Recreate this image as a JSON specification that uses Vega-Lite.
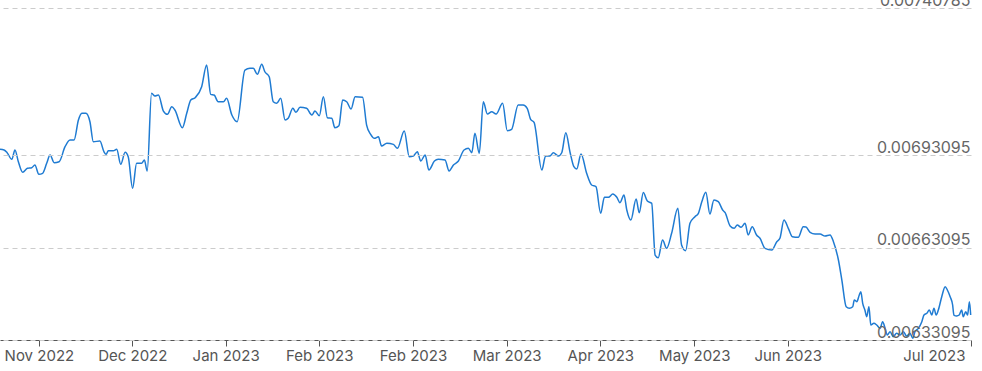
{
  "$schema": "https://vega.github.io/schema/vega-lite/v6.json",
  "width": 971,
  "height": 332,
  "autosize": {"type": "none"},
  "padding": {"left": 0, "top": 8, "right": 11, "bottom": 31},
  "background": "white",
  "config": {"view": {"stroke": null}},
  "data": {"values": [
    {"d":0.0,"v":0.0069494},{"d":1.3,"v":0.0069472},{"d":2.3,"v":0.0069384},{"d":3.8,"v":0.0069170},{"d":4.8,"v":0.0069472},
    {"d":5.9,"v":0.0069092},{"d":7.3,"v":0.0068748},{"d":8.8,"v":0.0068878},{"d":10.2,"v":0.0068898},{"d":11.2,"v":0.0068985},
    {"d":12.5,"v":0.0068684},{"d":13.7,"v":0.0068716},{"d":15.0,"v":0.0069040},{"d":16.1,"v":0.0069310},{"d":17.4,"v":0.0069060},
    {"d":19.0,"v":0.0069092},{"d":20.9,"v":0.0069579},{"d":22.5,"v":0.0069796},{"d":23.8,"v":0.0069796},{"d":25.2,"v":0.0070445},
    {"d":26.3,"v":0.0070662},{"d":27.6,"v":0.0070662},{"d":28.9,"v":0.0070390},{"d":30.0,"v":0.0069741},{"d":32.1,"v":0.0069764},
    {"d":33.4,"v":0.0069416},{"d":34.1,"v":0.0069332},{"d":34.8,"v":0.0069449},{"d":36.4,"v":0.0069449},{"d":37.5,"v":0.0069494},
    {"d":38.8,"v":0.0069008},{"d":40.2,"v":0.0069397},{"d":41.2,"v":0.0069254},{"d":42.6,"v":0.0068230},{"d":43.9,"v":0.0069040},
    {"d":45.5,"v":0.0069040},{"d":46.4,"v":0.0069147},{"d":47.3,"v":0.0068791},{"d":48.7,"v":0.0071310},{"d":49.8,"v":0.0071223},
    {"d":50.9,"v":0.0071255},{"d":52.5,"v":0.0070736},{"d":53.8,"v":0.0070629},{"d":55.2,"v":0.0070876},{"d":56.2,"v":0.0070769},
    {"d":58.6,"v":0.0070195},{"d":60.0,"v":0.0070662},{"d":61.3,"v":0.0071093},{"d":62.7,"v":0.0071168},{"d":64.8,"v":0.0071525},
    {"d":66.4,"v":0.0072228},{"d":67.7,"v":0.0071278},{"d":68.8,"v":0.0071255},{"d":70.1,"v":0.0071038},{"d":71.8,"v":0.0071038},
    {"d":72.8,"v":0.0071148},{"d":74.5,"v":0.0070607},{"d":76.2,"v":0.0070390},{"d":78.7,"v":0.0072066},{"d":80.3,"v":0.0072121},
    {"d":81.4,"v":0.0072121},{"d":82.7,"v":0.0071927},{"d":84.1,"v":0.0072251},{"d":85.1,"v":0.0072011},{"d":86.5,"v":0.0071849},
    {"d":87.8,"v":0.0071038},{"d":88.9,"v":0.0070986},{"d":90.2,"v":0.0071148},{"d":91.6,"v":0.0070445},{"d":92.6,"v":0.0070500},
    {"d":94.1,"v":0.0070824},{"d":95.1,"v":0.0070694},{"d":96.4,"v":0.0070856},{"d":98.5,"v":0.0070824},{"d":100.2,"v":0.0070607},
    {"d":101.2,"v":0.0070736},{"d":102.6,"v":0.0070584},{"d":103.9,"v":0.0071200},{"d":105.2,"v":0.0070519},{"d":106.6,"v":0.0070500},
    {"d":107.6,"v":0.0070195},{"d":108.9,"v":0.0070260},{"d":110.1,"v":0.0071093},{"d":111.4,"v":0.0071038},{"d":112.8,"v":0.0070801},
    {"d":114.1,"v":0.0071200},{"d":116.5,"v":0.0071181},{"d":117.8,"v":0.0070282},{"d":119.1,"v":0.0069981},{"d":120.3,"v":0.0069851},
    {"d":121.6,"v":0.0069903},{"d":122.6,"v":0.0069601},{"d":124.3,"v":0.0069689},{"d":126.4,"v":0.0069656},{"d":127.7,"v":0.0069527},
    {"d":129.9,"v":0.0070088},{"d":131.5,"v":0.0069254},{"d":132.8,"v":0.0069277},{"d":134.1,"v":0.0069416},{"d":135.2,"v":0.0069115},
    {"d":136.6,"v":0.0069310},{"d":137.8,"v":0.0068823},{"d":139.6,"v":0.0069115},{"d":140.8,"v":0.0069170},{"d":143.0,"v":0.0069147},
    {"d":144.3,"v":0.0068791},{"d":145.7,"v":0.0068985},{"d":147.3,"v":0.0069115},{"d":149.1,"v":0.0069472},{"d":150.5,"v":0.0069527},
    {"d":151.6,"v":0.0069384},{"d":152.6,"v":0.0070013},{"d":154.0,"v":0.0069365},{"d":155.3,"v":0.0071038},{"d":156.6,"v":0.0070639},
    {"d":158.0,"v":0.0070714},{"d":159.4,"v":0.0070639},{"d":161.5,"v":0.0070986},{"d":163.0,"v":0.0070098},{"d":164.4,"v":0.0070143},
    {"d":166.5,"v":0.0070931},{"d":168.1,"v":0.0070931},{"d":169.4,"v":0.0070824},{"d":170.5,"v":0.0070467},{"d":171.6,"v":0.0070370},
    {"d":174.1,"v":0.0068823},{"d":175.3,"v":0.0069277},{"d":176.7,"v":0.0069277},{"d":177.8,"v":0.0069384},{"d":179.4,"v":0.0069277},
    {"d":180.5,"v":0.0069384},{"d":181.8,"v":0.0070033},{"d":183.2,"v":0.0069384},{"d":184.4,"v":0.0068930},{"d":185.3,"v":0.0068855},
    {"d":186.7,"v":0.0069342},{"d":188.5,"v":0.0068716},{"d":190.1,"v":0.0068337},{"d":191.5,"v":0.0068282},{"d":193.0,"v":0.0067419},
    {"d":194.2,"v":0.0067938},{"d":195.5,"v":0.0067938},{"d":196.9,"v":0.0068045},{"d":198.2,"v":0.0067938},{"d":199.2,"v":0.0067763},
    {"d":200.5,"v":0.0068012},{"d":201.4,"v":0.0067526},{"d":202.7,"v":0.0067201},{"d":204.4,"v":0.0067882},{"d":205.4,"v":0.0067438},
    {"d":206.7,"v":0.0068093},{"d":208.0,"v":0.0067818},{"d":209.4,"v":0.0067743},{"d":210.5,"v":0.0066066},{"d":211.5,"v":0.0065979},
    {"d":212.9,"v":0.0066553},{"d":214.2,"v":0.0066284},{"d":215.8,"v":0.0066770},{"d":217.8,"v":0.0067581},{"d":219.0,"v":0.0066391},
    {"d":220.3,"v":0.0066206},{"d":221.7,"v":0.0067094},{"d":223.3,"v":0.0067308},{"d":224.4,"v":0.0067419},{"d":225.5,"v":0.0067795},
    {"d":226.8,"v":0.0068100},{"d":228.1,"v":0.0067396},{"d":229.4,"v":0.0067850},{"d":230.8,"v":0.0067795},{"d":232.2,"v":0.0067526},
    {"d":233.0,"v":0.0067438},{"d":234.6,"v":0.0067007},{"d":235.9,"v":0.0066932},{"d":236.9,"v":0.0067039},{"d":238.1,"v":0.0066965},
    {"d":239.4,"v":0.0067094},{"d":240.4,"v":0.0066715},{"d":241.7,"v":0.0066984},{"d":243.1,"v":0.0066715},{"d":244.2,"v":0.0066608},
    {"d":245.8,"v":0.0066284},{"d":248.0,"v":0.0066228},{"d":249.6,"v":0.0066498},{"d":250.6,"v":0.0066608},{"d":251.9,"v":0.0067201},
    {"d":253.3,"v":0.0066932},{"d":254.6,"v":0.0066660},{"d":256.5,"v":0.0066640},{"d":258.1,"v":0.0066984},{"d":259.0,"v":0.0066974},
    {"d":260.3,"v":0.0066802},{"d":261.9,"v":0.0066747},{"d":263.5,"v":0.0066747},{"d":265.1,"v":0.0066682},{"d":266.7,"v":0.0066715},
    {"d":267.8,"v":0.0066498},{"d":269.4,"v":0.0065904},{"d":270.5,"v":0.0065255},{"d":271.9,"v":0.0064390},{"d":272.9,"v":0.0064338},
    {"d":274.0,"v":0.0064390},{"d":274.5,"v":0.0064607},{"d":275.3,"v":0.0064552},{"d":276.1,"v":0.0064769},{"d":276.6,"v":0.0064876},
    {"d":277.2,"v":0.0064500},{"d":277.9,"v":0.0064282},{"d":278.5,"v":0.0064065},{"d":279.2,"v":0.0064390},{"d":279.8,"v":0.0063796},
    {"d":280.8,"v":0.0063851},{"d":281.7,"v":0.0063796},{"d":282.8,"v":0.0063689},{"d":283.6,"v":0.0063903},{"d":284.4,"v":0.0063689},
    {"d":285.1,"v":0.0063472},{"d":286.0,"v":0.0063579},{"d":287.0,"v":0.0063417},{"d":288.1,"v":0.0063527},{"d":289.2,"v":0.0063472},
    {"d":290.3,"v":0.0063579},{"d":291.3,"v":0.0063439},{"d":292.4,"v":0.0063527},{"d":293.3,"v":0.0063365},{"d":294.0,"v":0.0063579},
    {"d":295.1,"v":0.0063689},{"d":296.2,"v":0.0063903},{"d":296.9,"v":0.0064120},{"d":297.8,"v":0.0064175},{"d":298.6,"v":0.0064282},
    {"d":299.4,"v":0.0064120},{"d":300.1,"v":0.0064338},{"d":300.8,"v":0.0064120},{"d":301.5,"v":0.0064282},{"d":302.6,"v":0.0064714},
    {"d":303.7,"v":0.0065038},{"d":304.4,"v":0.0064931},{"d":305.3,"v":0.0064714},{"d":306.1,"v":0.0064445},{"d":306.5,"v":0.0064120},
    {"d":307.4,"v":0.0064088},{"d":308.2,"v":0.0064120},{"d":309.0,"v":0.0064282},{"d":309.5,"v":0.0064065},{"d":310.3,"v":0.0064227},
    {"d":310.9,"v":0.0064120},{"d":311.5,"v":0.0064552},{"d":311.9,"v":0.0064120}
  ]},
  "mark": {"type": "line", "color": "#1f7bd2", "strokeWidth": 1.5, "interpolate": "monotone"},
  "encoding": {
    "x": {
      "field": "d", "type": "quantitative",
      "scale": {"domain": [0, 312], "nice": false, "zero": false},
      "axis": {
        "title": null, "grid": false,
        "values": [12.5, 42.5, 72.5, 102.6, 132.7, 162.8, 192.9, 223.1, 253.1, 312],
        "labelExpr": "datum.value < 20 ? 'Nov 2022' : datum.value < 50 ? 'Dec 2022' : datum.value < 80 ? 'Jan 2023' : datum.value < 140 ? 'Feb 2023' : datum.value < 170 ? 'Mar 2023' : datum.value < 200 ? 'Apr 2023' : datum.value < 230 ? 'May 2023' : datum.value < 260 ? 'Jun 2023' : 'Jul 2023'",
        "domainColor": "#555555", "domainWidth": 1,
        "tickColor": "#555555", "tickSize": 6,
        "labelColor": "#555555", "labelFont": "Inter", "labelFontSize": 15,
        "labelPadding": 2, "labelFlush": true, "labelFlushOffset": -6, "labelOverlap": false
      }
    },
    "y": {
      "field": "v", "type": "quantitative",
      "scale": {"domain": [0.00633095, 0.00740785], "nice": false, "zero": false},
      "axis": {
        "title": null, "orient": "right",
        "values": [0.00633095, 0.00663095, 0.00693095, 0.00740785],
        "format": ".8f",
        "domain": false, "ticks": false, "tickSize": 0,
        "grid": true, "gridColor": "#cccccc", "gridDash": [5, 4], "gridWidth": 1,
        "labelAlign": "right", "labelBaseline": "alphabetic", "labelPadding": -1, "labelOffset": -3,
        "labelColor": "#666666", "labelFont": "Inter", "labelFontSize": 16, "labelOverlap": false,
        "zindex": 1
      }
    }
  }
}
